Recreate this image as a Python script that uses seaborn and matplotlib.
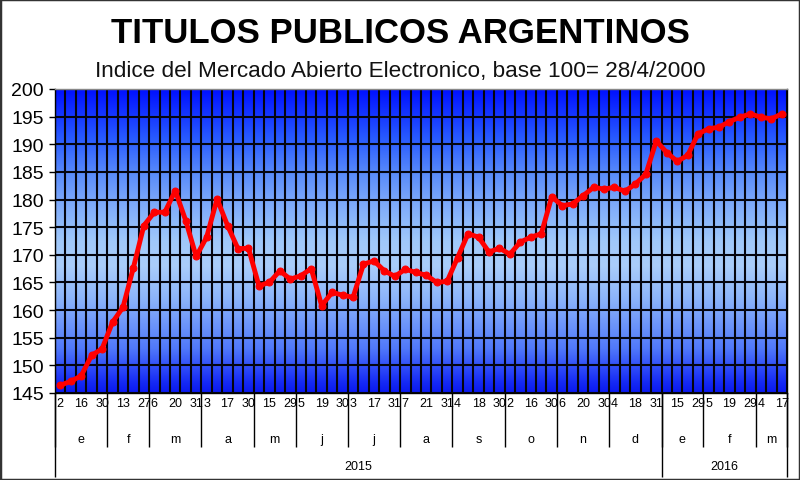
import numpy as np
import pandas as pd
import seaborn as sns
import matplotlib.pyplot as plt
from matplotlib.colors import LinearSegmentedColormap
from matplotlib.patches import Rectangle

# Datos: indice semanal (viernes) + cierre de mes, ene-2015 a mar-2016
day_labels = ['2', '', '16', '', '30',
              '', '13', '', '27',
              '6', '', '20', '', '31',
              '3', '', '17', '', '30',
              '', '15', '', '29',
              '5', '', '19', '', '30',
              '3', '', '17', '', '31',
              '7', '', '21', '', '31',
              '4', '', '18', '', '30',
              '2', '', '16', '', '30',
              '6', '', '20', '', '30',
              '4', '', '18', '', '31',
              '', '15', '', '29',
              '5', '', '19', '', '29',
              '4', '', '17']

months = ['e', 'f', 'm', 'a', 'm', 'j', 'j', 'a', 's', 'o', 'n', 'd', 'e', 'f', 'm']
month_sizes = [5, 4, 5, 5, 4, 5, 5, 5, 5, 5, 5, 5, 4, 5, 3]
years = ['2015', '2016']
year_sizes = [58, 12]

values = [146.4, 147.1, 148.1, 151.8, 153.0,
          157.8, 160.5, 167.7, 175.3,
          177.7, 177.7, 181.6, 176.2, 169.7,
          173.2, 180.1, 175.3, 171.1, 171.2,
          164.4, 165.0, 167.1, 165.6,
          166.2, 167.5, 160.8, 163.2, 162.7,
          162.3, 168.3, 168.9, 167.1, 166.1,
          167.4, 166.8, 166.3, 165.0, 165.2,
          169.5, 173.8, 173.2, 170.5, 171.2,
          170.1, 172.3, 173.2, 173.8, 180.5,
          178.9, 179.2, 180.7, 182.2, 181.9,
          182.2, 181.5, 182.8, 184.6, 190.6,
          188.5, 186.9, 188.0, 191.9,
          192.8, 193.1, 194.1, 194.9, 195.5,
          194.9, 194.6, 195.5]

df = pd.DataFrame({'pos': np.arange(len(values)), 'indice': values})
n = len(values)

sns.set_style('white')
plt.rcParams['font.family'] = ['Liberation Sans', 'DejaVu Sans']
plt.rcParams['text.color'] = 'black'
plt.rcParams['xtick.color'] = 'black'
plt.rcParams['ytick.color'] = 'black'

fig = plt.figure(figsize=(8, 4.81), dpi=100)
ax = fig.add_axes([0.06875, 0.1809, 0.915, 0.632])

# Fondo degradado azul (oscuro arriba y abajo, claro al medio)
stops = [(0, '#0010FF'), (0.16, '#285AFF'), (0.28, '#5A8CFA'), (0.36, '#78A5FA'),
         (0.5, '#A0C8FA'), (0.58, '#AACDFA'), (0.69, '#8CB4FA'), (0.855, '#5078FA'),
         (0.97, '#1428F5'), (1, '#0A19F0')]
cmap = LinearSegmentedColormap.from_list('fondo', stops)
grad = np.linspace(0, 1, 256).reshape(-1, 1)
ax.imshow(grad, cmap=cmap, aspect='auto', extent=[-0.5, n - 0.5, 145, 200], zorder=-1)

sns.lineplot(data=df, x='pos', y='indice', ax=ax, color='#FF0000', lw=3.5,
             marker='o', markersize=5, markeredgecolor='#FF0000', zorder=3)

ax.set_xlim(-0.5, n - 0.5)
ax.set_ylim(145, 200)
ax.set_yticks(np.arange(145, 201, 5))
ax.tick_params(axis='y', labelsize=14, length=4, width=1, color='black', pad=4, left=True)

ax.set_xticks(np.arange(n))
ax.set_xticklabels(day_labels, fontsize=9)
ax.set_xticks(np.arange(-0.5, n, 1), minor=True)
ax.tick_params(axis='x', which='both', length=0, pad=3)

ax.grid(which='minor', axis='x', color='#05050f', lw=1.5)
ax.grid(which='major', axis='y', color='#05050f', lw=1.5)
ax.grid(which='major', axis='x', visible=False)
ax.set_xlabel('')
ax.set_ylabel('')

for s in ax.spines.values():
    s.set_color('black')
    s.set_linewidth(1)
ax.spines['top'].set_color('#888888')

# Eje multinivel: meses y anios
tr = ax.get_xaxis_transform()
edges = np.concatenate([[0], np.cumsum(month_sizes)]) - 0.5
for i, m in enumerate(months):
    ax.text((edges[i] + edges[i + 1]) / 2, -0.151, m, transform=tr, ha='center', va='center', fontsize=9)
ax.vlines(edges, -0.178, 0, transform=tr, colors='black', lw=1, clip_on=False)

yedges = np.concatenate([[0], np.cumsum(year_sizes)]) - 0.5
for i, y in enumerate(years):
    ax.text((yedges[i] + yedges[i + 1]) / 2, -0.240, y, transform=tr, ha='center', va='center', fontsize=9)
ax.vlines(yedges, -0.276, 0, transform=tr, colors='black', lw=1, clip_on=False)

fig.text(0.5, 0.931, 'TITULOS PUBLICOS ARGENTINOS', ha='center', va='center',
         fontsize=25, fontweight='bold', color='black')
fig.text(0.5, 0.852, 'Indice del Mercado Abierto Electronico, base 100= 28/4/2000',
         ha='center', va='center', fontsize=16.2, color='#111111')

fig.patches.append(Rectangle((0, 0), 1, 1, transform=fig.transFigure, fill=False,
                             edgecolor='#333333', lw=2.5))

fig.savefig('out.png', dpi=100)
